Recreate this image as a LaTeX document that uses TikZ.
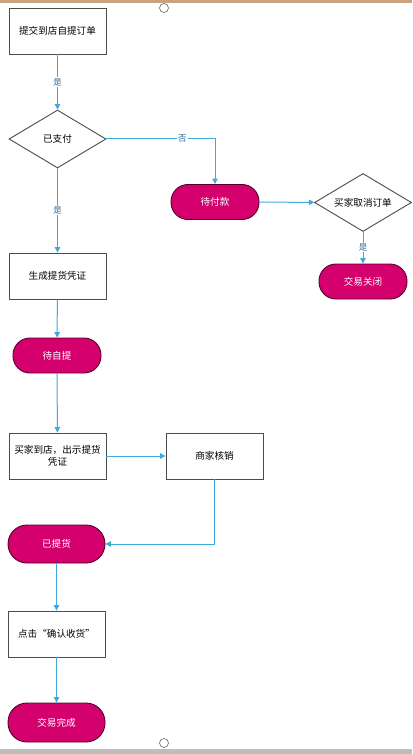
\documentclass[tikz,border=0pt]{standalone}
\usepackage{fontspec}
\newfontfamily\cjk{Noto Sans CJK SC}
\usetikzlibrary{shapes.geometric,arrows.meta}
\definecolor{mag}{HTML}{D4006E}
\definecolor{lnk}{HTML}{3FA9DA}
\definecolor{topbar}{HTML}{C9A27E}
\definecolor{botbar}{HTML}{BDBDBD}
\definecolor{labc}{HTML}{2F6F96}
\begin{document}
\begin{tikzpicture}[x=1pt,y=-1pt,
  font=\cjk\fontsize{9.6}{11.5}\selectfont,
  box/.style={draw=black!70, fill=white, line width=0.9pt, minimum width=97pt, minimum height=46pt, inner sep=2pt, align=center},
  term/.style={draw=black!60!mag, fill=mag, text=white, line width=0.9pt, rounded corners=17pt, minimum width=88pt, minimum height=35pt, inner sep=2pt},
  dec/.style={diamond, draw=black!70, fill=white, line width=0.9pt, aspect=1.67, minimum width=97pt, minimum height=58pt, inner sep=0pt},
  link/.style={draw=lnk, line width=1pt, -{Triangle[width=5.5pt,length=5.5pt]}},
  lab/.style={fill=white, text=labc, font=\cjk\fontsize{8.5}{9}\selectfont, inner sep=1pt},
  handle/.style={draw=black!60, fill=white, line width=0.6pt}
]
\useasboundingbox (0,0) rectangle (412,754);
\fill[topbar] (0,0) rectangle (412,3);
\fill[botbar] (0,749) rectangle (412,754);
\draw[handle] (164,8) circle (4.5pt);
\draw[handle] (164,743) circle (4.5pt);

\node[box] (n1) at (57.5,31) {提交到店自提订单};
\node[dec] (d1) at (57.5,139) {已支付};
\node[term] (w1) at (215,202) {待付款};
\node[dec] (d2) at (363,202.5) {买家取消订单};
\node[term] (c1) at (363,281.5) {交易关闭};
\node[box] (g1) at (57.5,276) {生成提货凭证};
\node[term] (z1) at (57,355.5) {待自提};
\node[box] (b1) at (57.5,456) {买家到店，出示提货\\凭证};
\node[box] (s1) at (214.5,456) {商家核销};
\node[term, minimum width=97pt, minimum height=38pt, rounded corners=19pt] (y1) at (56.5,544) {已提货};
\node[box] (q1) at (56.5,634) {点击“确认收货”};
\node[term, minimum width=97pt, minimum height=39pt, rounded corners=19pt] (f1) at (56.5,722.5) {交易完成};

\draw[link] (n1) -- node[lab]{是} (d1);
\draw[link] (d1.east) -| node[lab, pos=0.35]{否} (w1.north);
\draw[link] (w1) -- (d2);
\draw[link] (d2) -- node[lab]{是} (c1);
\draw[link] (d1) -- node[lab]{是} (g1);
\draw[link] (g1) -- (z1);
\draw[link] (z1) -- (b1);
\draw[link] (b1) -- (s1);
\draw[link] (s1.south) |- (y1.east);
\draw[link] (y1) -- (q1);
\draw[link] (q1) -- (f1);
\end{tikzpicture}
\end{document}
